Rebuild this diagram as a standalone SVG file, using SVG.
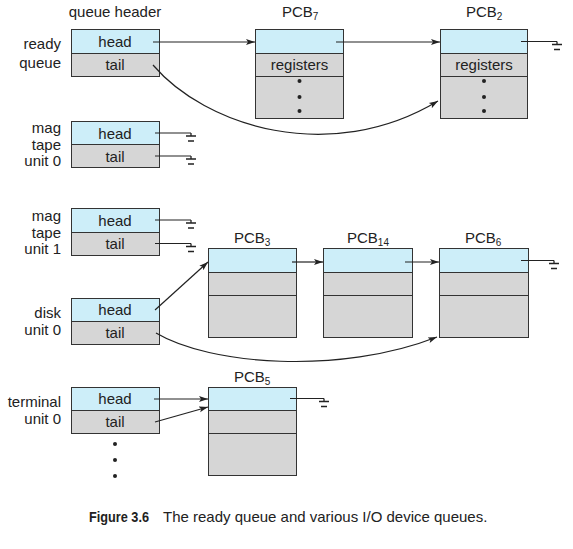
<svg xmlns="http://www.w3.org/2000/svg" width="573" height="549" viewBox="0 0 573 549">
<style>
text{font-family:"Liberation Sans",Arial,sans-serif;font-size:15px;fill:#222}
.c{text-anchor:middle}
.r{text-anchor:end}
.hd{fill:#cdeef9;stroke:#333;stroke-width:1}
.gy{fill:#d6d6d6;stroke:#333;stroke-width:1}
.ln{fill:none;stroke:#222;stroke-width:1.2}
.ar{fill:none;stroke:#222;stroke-width:1.2;marker-end:url(#ah)}
.gnd{fill:none;stroke:#222;stroke-width:1.3}
.dot{fill:#222}
.sub{font-size:10px}
</style>
<defs>
<marker id="ah" markerWidth="10" markerHeight="8" refX="9" refY="4" orient="auto" markerUnits="userSpaceOnUse">
<path d="M0,1 L9,4 L0,7 L2,4 z" fill="#222"/>
</marker>
<g id="gsym">
<path d="M0,0 V3 M-5,3 H5 M-3,8 H3"/>
</g>
</defs>
<rect width="573" height="549" fill="#fff"/>

<text x="115" y="17" class="c">queue header</text>

<g id="ready-queue">
<text x="61" y="49" class="r">ready</text>
<text x="61" y="68" class="r">queue</text>
<rect x="71.5" y="29.5" width="88" height="24" class="hd"/>
<rect x="71.5" y="53.5" width="88" height="23" class="gy"/>
<text x="115" y="47" class="c">head</text>
<text x="115" y="70" class="c">tail</text>
</g>

<g id="mag-tape-0">
<text x="61" y="133" class="r">mag</text>
<text x="61" y="150" class="r">tape</text>
<text x="61" y="166" class="r">unit 0</text>
<rect x="71.5" y="121.5" width="88" height="23" class="hd"/>
<rect x="71.5" y="144.5" width="88" height="23" class="gy"/>
<text x="115" y="139" class="c">head</text>
<text x="115" y="162" class="c">tail</text>
</g>

<g id="mag-tape-1">
<text x="61" y="221" class="r">mag</text>
<text x="61" y="238" class="r">tape</text>
<text x="61" y="254" class="r">unit 1</text>
<rect x="71.5" y="208.5" width="88" height="24" class="hd"/>
<rect x="71.5" y="232.5" width="88" height="23" class="gy"/>
<text x="115" y="226" class="c">head</text>
<text x="115" y="249" class="c">tail</text>
</g>

<g id="disk-unit-0">
<text x="61" y="318" class="r">disk</text>
<text x="61" y="335" class="r">unit 0</text>
<rect x="71.5" y="298.5" width="88" height="23" class="hd"/>
<rect x="71.5" y="321.5" width="88" height="23" class="gy"/>
<text x="115" y="315" class="c">head</text>
<text x="115" y="338" class="c">tail</text>
</g>

<g id="terminal-unit-0">
<text x="61" y="407" class="r">terminal</text>
<text x="61" y="424" class="r">unit 0</text>
<rect x="71.5" y="387.5" width="88" height="23" class="hd"/>
<rect x="71.5" y="410.5" width="88" height="23" class="gy"/>
<text x="115" y="404" class="c">head</text>
<text x="115" y="427" class="c">tail</text>
<circle cx="115" cy="444" r="2" class="dot"/>
<circle cx="115" cy="460" r="2" class="dot"/>
<circle cx="115" cy="476" r="2" class="dot"/>
</g>

<g id="pcb7">
<text x="282" y="17">PCB<tspan class="sub" dy="3">7</tspan></text>
<rect x="255.5" y="29.5" width="88" height="24" class="hd"/>
<rect x="255.5" y="53.5" width="88" height="23" class="gy"/>
<rect x="255.5" y="76.5" width="88" height="42" class="gy"/>
<text x="299.5" y="70" class="c">registers</text>
<circle cx="299.5" cy="81" r="2" class="dot"/>
<circle cx="299.5" cy="97" r="2" class="dot"/>
<circle cx="299.5" cy="111" r="2" class="dot"/>
</g>

<g id="pcb2">
<text x="466" y="17">PCB<tspan class="sub" dy="3">2</tspan></text>
<rect x="440.5" y="29.5" width="87" height="24" class="hd"/>
<rect x="440.5" y="53.5" width="87" height="23" class="gy"/>
<rect x="440.5" y="76.5" width="87" height="42" class="gy"/>
<text x="484" y="70" class="c">registers</text>
<circle cx="484" cy="81" r="2" class="dot"/>
<circle cx="484" cy="97" r="2" class="dot"/>
<circle cx="484" cy="111" r="2" class="dot"/>
</g>

<g id="pcb3">
<text x="234" y="243">PCB<tspan class="sub" dy="3">3</tspan></text>
<rect x="208.5" y="248.5" width="88" height="24" class="hd"/>
<rect x="208.5" y="272.5" width="88" height="23" class="gy"/>
<rect x="208.5" y="295.5" width="88" height="42" class="gy"/>
</g>

<g id="pcb14">
<text x="347" y="243">PCB<tspan class="sub" dy="3">14</tspan></text>
<rect x="323.5" y="248.5" width="89" height="24" class="hd"/>
<rect x="323.5" y="272.5" width="89" height="23" class="gy"/>
<rect x="323.5" y="295.5" width="89" height="42" class="gy"/>
</g>

<g id="pcb6">
<text x="465" y="243">PCB<tspan class="sub" dy="3">6</tspan></text>
<rect x="439.5" y="248.5" width="89" height="24" class="hd"/>
<rect x="439.5" y="272.5" width="89" height="23" class="gy"/>
<rect x="439.5" y="295.5" width="89" height="42" class="gy"/>
</g>

<g id="pcb5">
<text x="234" y="382">PCB<tspan class="sub" dy="3">5</tspan></text>
<rect x="208.5" y="387.5" width="88" height="23" class="hd"/>
<rect x="208.5" y="410.5" width="88" height="23" class="gy"/>
<rect x="208.5" y="433.5" width="88" height="42" class="gy"/>
</g>

<g id="connectors">
<path d="M153,42 H255" class="ar"/>
<path d="M336,42 H440" class="ar"/>
<path d="M153,65 C205,126 330,166 438,101" class="ar"/>
<path d="M521,41.5 H557" class="ln"/>
<use href="#gsym" x="557" y="41.5" class="gnd"/>

<path d="M155,133 H191" class="ln"/>
<use href="#gsym" x="191" y="133" class="gnd"/>
<path d="M155,156 H191" class="ln"/>
<use href="#gsym" x="191" y="156" class="gnd"/>

<path d="M155,220 H191" class="ln"/>
<use href="#gsym" x="191" y="220" class="gnd"/>
<path d="M155,243.5 H191" class="ln"/>
<use href="#gsym" x="191" y="243.5" class="gnd"/>

<path d="M155,310 L208,262" class="ar"/>
<path d="M156,333 C210,365 340,375 437,337" class="ar"/>
<path d="M292,262 H323" class="ar"/>
<path d="M405,262 H439" class="ar"/>
<path d="M521,260.5 H554" class="ln"/>
<use href="#gsym" x="554" y="260.5" class="gnd"/>

<path d="M154,399 H208" class="ar"/>
<path d="M155,422 L208,407" class="ar"/>
<path d="M290,398.5 H324" class="ln"/>
<use href="#gsym" x="324" y="398.5" class="gnd"/>
</g>

<text x="89" y="522" font-weight="bold" font-size="15" textLength="60" lengthAdjust="spacingAndGlyphs">Figure 3.6</text>
<text x="163" y="522">The ready queue and various I/O device queues.</text>
</svg>
